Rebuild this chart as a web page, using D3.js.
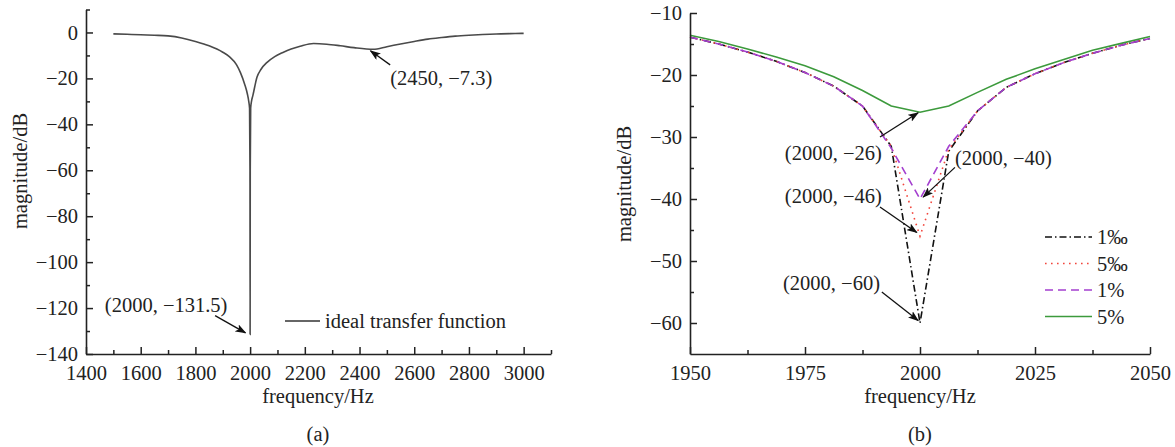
<!DOCTYPE html>
<html><head><meta charset="utf-8">
<script src="https://cdn.jsdelivr.net/npm/d3@7"></script>
<style>
body{margin:0;background:#fff}
text{font-family:"Liberation Serif","Times New Roman",serif;fill:#222}
</style>
</head><body>
<svg id="c" width="1175" height="447"></svg>
<script>
// ---------- Panel (a) data ----------
const freqA = [1500,1550,1600,1650,1700,1750,1800,1850,1900,1925,1950,1965,1980,1990,1995,1998,1999.5,2000,2000.5,2002,2005,2010,2025,2040,2062,2090,2120,2150,2183,2232,2280,2330,2380,2450,2500,2550,2600,2650,2700,2750,2800,2850,2900,2950,3000];
const magA  = [-0.6,-0.8,-1.0,-1.2,-1.5,-2.4,-3.9,-5.8,-8.6,-10.6,-14.0,-17.6,-22.5,-26.8,-30,-33,-60,-131.5,-60,-33,-30,-27.5,-19.5,-16,-13,-10.5,-8.7,-7.2,-6.0,-4.8,-5.1,-5.8,-6.6,-7.3,-6.2,-5.0,-3.9,-2.9,-2.2,-1.6,-1.2,-0.9,-0.7,-0.5,-0.4];
const xTicksA = [1400,1600,1800,2000,2200,2400,2600,2800,3000];
const xMinorA = [1500,1700,1900,2100,2300,2500,2700,2900,3100];
const yTicksA = [-140,-120,-100,-80,-60,-40,-20,0];
const yMinorA = [-130,-110,-90,-70,-50,-30,-10,10];
const legendA = "ideal transfer function";
const annA = [
  {text:"(2000, \u2212131.5)", tx:1693, ty:-121.5, anchor:"middle", from:[1872,-123.3], to:[1983,-130.8]},
  {text:"(2450, \u22127.3)", tx:2512, ty:-22.8, anchor:"start", from:[2512,-14.1], to:[2440,-8.0]}
];

// ---------- Panel (b) data ----------
const freqB = [1950,1956.25,1962.5,1968.75,1975,1981.25,1987.5,1993.75,2000,2006.25,2012.5,2018.75,2025,2031.25,2037.5,2043.75,2050];
const mag1pm = [-13.9,-15.0,-16.3,-17.8,-19.6,-21.8,-25.0,-31.5,-60,-32.3,-25.8,-22.0,-19.8,-18.0,-16.5,-15.2,-14.1];
const mag5pm = [-13.9,-15.0,-16.3,-17.8,-19.6,-21.8,-25.0,-31.5,-46,-32.0,-25.8,-22.0,-19.8,-18.0,-16.5,-15.2,-14.1];
const mag1pc = [-13.9,-15.0,-16.3,-17.8,-19.6,-21.8,-25.0,-31.8,-40,-31.5,-25.8,-22.0,-19.8,-18.0,-16.5,-15.2,-14.1];
const mag5pc = [-13.6,-14.6,-15.8,-17.1,-18.5,-20.3,-22.5,-25.0,-26,-25.0,-22.8,-20.7,-19.0,-17.5,-16.0,-14.9,-13.8];
const seriesNames = ["1\u2030","5\u2030","1%","5%"];
const xTicksB = [1950,1975,2000,2025,2050];
const xMinorB = [1962.5,1987.5,2012.5,2037.5];
const yTicksB = [-60,-50,-40,-30,-20,-10];
const yMinorB = [-55,-45,-35,-25,-15];
const annB = [
  {text:"(2000, \u221226)", tx:1991.7, ty:-33.7, anchor:"end", from:[1991.3,-30.0], to:[1999.6,-26.1]},
  {text:"(2000, \u221240)", tx:2007.6, ty:-34.5, anchor:"start", from:[2007.6,-34.9], to:[2000.7,-39.7]},
  {text:"(2000, \u221246)", tx:1991.7, ty:-40.6, anchor:"end", from:[1991.3,-41.3], to:[1999.3,-45.4]},
  {text:"(2000, \u221260)", tx:1991.3, ty:-54.7, anchor:"end", from:[1991.7,-55.0], to:[1999.6,-59.6]}
];

const FS = 20.5;
const FONT = "Liberation Serif, Times New Roman, serif";
const svg = d3.select("#c");
svg.append("rect").attr("width",1175).attr("height",447).attr("fill","#fff");

const defs = svg.append("defs");
defs.append("marker").attr("id","arr").attr("markerUnits","userSpaceOnUse")
  .attr("markerWidth",11).attr("markerHeight",8).attr("refX",10).attr("refY",4)
  .attr("orient","auto")
  .append("path").attr("d","M0,0 L11,4 L0,8 L2.5,4 z").attr("fill","#111");

function drawAxes(g, x, y, xt, xm, yt, ym){
  const xr = x.range(), yr = y.range();
  g.append("g").attr("transform",`translate(0,${yr[0]})`)
    .call(d3.axisBottom(x).tickValues(xt).tickSizeInner(-7).tickSizeOuter(0).tickPadding(11).tickFormat(d3.format("d")));
  g.append("g").attr("transform",`translate(0,${yr[0]})`)
    .call(d3.axisBottom(x).tickValues(xm).tickSizeInner(-4).tickSizeOuter(0).tickFormat(""))
    .select(".domain").remove();
  g.append("g").attr("transform",`translate(${xr[0]},0)`)
    .call(d3.axisLeft(y).tickValues(yt).tickSizeInner(-7).tickSizeOuter(0).tickPadding(8).tickFormat(d=>d<0?"\u2212"+(-d):String(d)));
  g.append("g").attr("transform",`translate(${xr[0]},0)`)
    .call(d3.axisLeft(y).tickValues(ym).tickSizeInner(-4).tickSizeOuter(0).tickFormat(""))
    .select(".domain").remove();
  g.selectAll("g").attr("font-family",FONT).attr("font-size",FS);
  g.selectAll(".domain").attr("stroke","#222").attr("stroke-width",1.6);
  g.selectAll(".tick line").attr("stroke","#222").attr("stroke-width",1.5);
  g.selectAll(".tick text").attr("font-size",FS).attr("fill","#222").attr("font-family",FONT);
}

function drawAnn(g, x, y, list){
  list.forEach(a=>{
    g.append("text").attr("x",x(a.tx)).attr("y",y(a.ty)).attr("text-anchor",a.anchor)
      .attr("font-size",FS).text(a.text);
    g.append("line").attr("x1",x(a.from[0])).attr("y1",y(a.from[1]))
      .attr("x2",x(a.to[0])).attr("y2",y(a.to[1]))
      .attr("stroke","#111").attr("stroke-width",1.3).attr("marker-end","url(#arr)");
  });
}

// ---------- Panel (a) ----------
{
  const x = d3.scaleLinear().domain([1400,3100]).range([86,551]);
  const y = d3.scaleLinear().domain([-140,10]).range([354,9.5]);
  const g = svg.append("g");
  const line = d3.line().x((d,i)=>x(freqA[i])).y(d=>y(d)).curve(d3.curveMonotoneX);
  g.append("path").datum(magA).attr("d",line).attr("fill","none")
    .attr("stroke","#4a4a4a").attr("stroke-width",1.6);
  drawAxes(g,x,y,xTicksA,xMinorA,yTicksA,yMinorA);
  drawAnn(g,x,y,annA);
  g.append("line").attr("x1",285).attr("x2",320).attr("y1",321).attr("y2",321)
    .attr("stroke","#333").attr("stroke-width",1.6);
  g.append("text").attr("x",325).attr("y",328).attr("font-size",FS).text(legendA);
  g.append("text").attr("x",318).attr("y",403).attr("text-anchor","middle").attr("font-size",FS).text("frequency/Hz");
  g.append("text").attr("transform","translate(27,171) rotate(-90)").attr("text-anchor","middle").attr("font-size",FS).text("magnitude/dB");
  g.append("text").attr("x",318).attr("y",441).attr("text-anchor","middle").attr("font-size",FS).text("(a)");
}

// ---------- Panel (b) ----------
{
  const x = d3.scaleLinear().domain([1950,2050]).range([690,1150]);
  const y = d3.scaleLinear().domain([-65,-10]).range([354,13]);
  const g = svg.append("g");
  const line = d3.line().x((d,i)=>x(freqB[i])).y(d=>y(d));
  const styles = [
    {data:mag1pm, color:"#111111", dash:"7,3,1.5,3"},
    {data:mag5pm, color:"#f2463c", dash:"1.6,4.4"},
    {data:mag1pc, color:"#a43fcf", dash:"8,5"},
    {data:mag5pc, color:"#3c9a3c", dash:null}
  ];
  [3,0,1,2].forEach(i=>{
    const s = styles[i];
    g.append("path").datum(s.data).attr("d",line).attr("fill","none")
      .attr("stroke",s.color).attr("stroke-width",1.6)
      .attr("stroke-dasharray",s.dash);
  });
  drawAxes(g,x,y,xTicksB,xMinorB,yTicksB,yMinorB);
  drawAnn(g,x,y,annB);
  styles.forEach((s,i)=>{
    const yy = 237 + i*26.5;
    g.append("line").attr("x1",1045).attr("x2",1092).attr("y1",yy).attr("y2",yy)
      .attr("stroke",s.color).attr("stroke-width",1.6).attr("stroke-dasharray",s.dash);
    g.append("text").attr("x",1097).attr("y",yy+7).attr("font-size",FS).text(seriesNames[i]);
  });
  g.append("text").attr("x",920).attr("y",403).attr("text-anchor","middle").attr("font-size",FS).text("frequency/Hz");
  g.append("text").attr("transform","translate(631,184) rotate(-90)").attr("text-anchor","middle").attr("font-size",FS).text("magnitude/dB");
  g.append("text").attr("x",920).attr("y",441).attr("text-anchor","middle").attr("font-size",FS).text("(b)");
}
</script>
</body></html>
